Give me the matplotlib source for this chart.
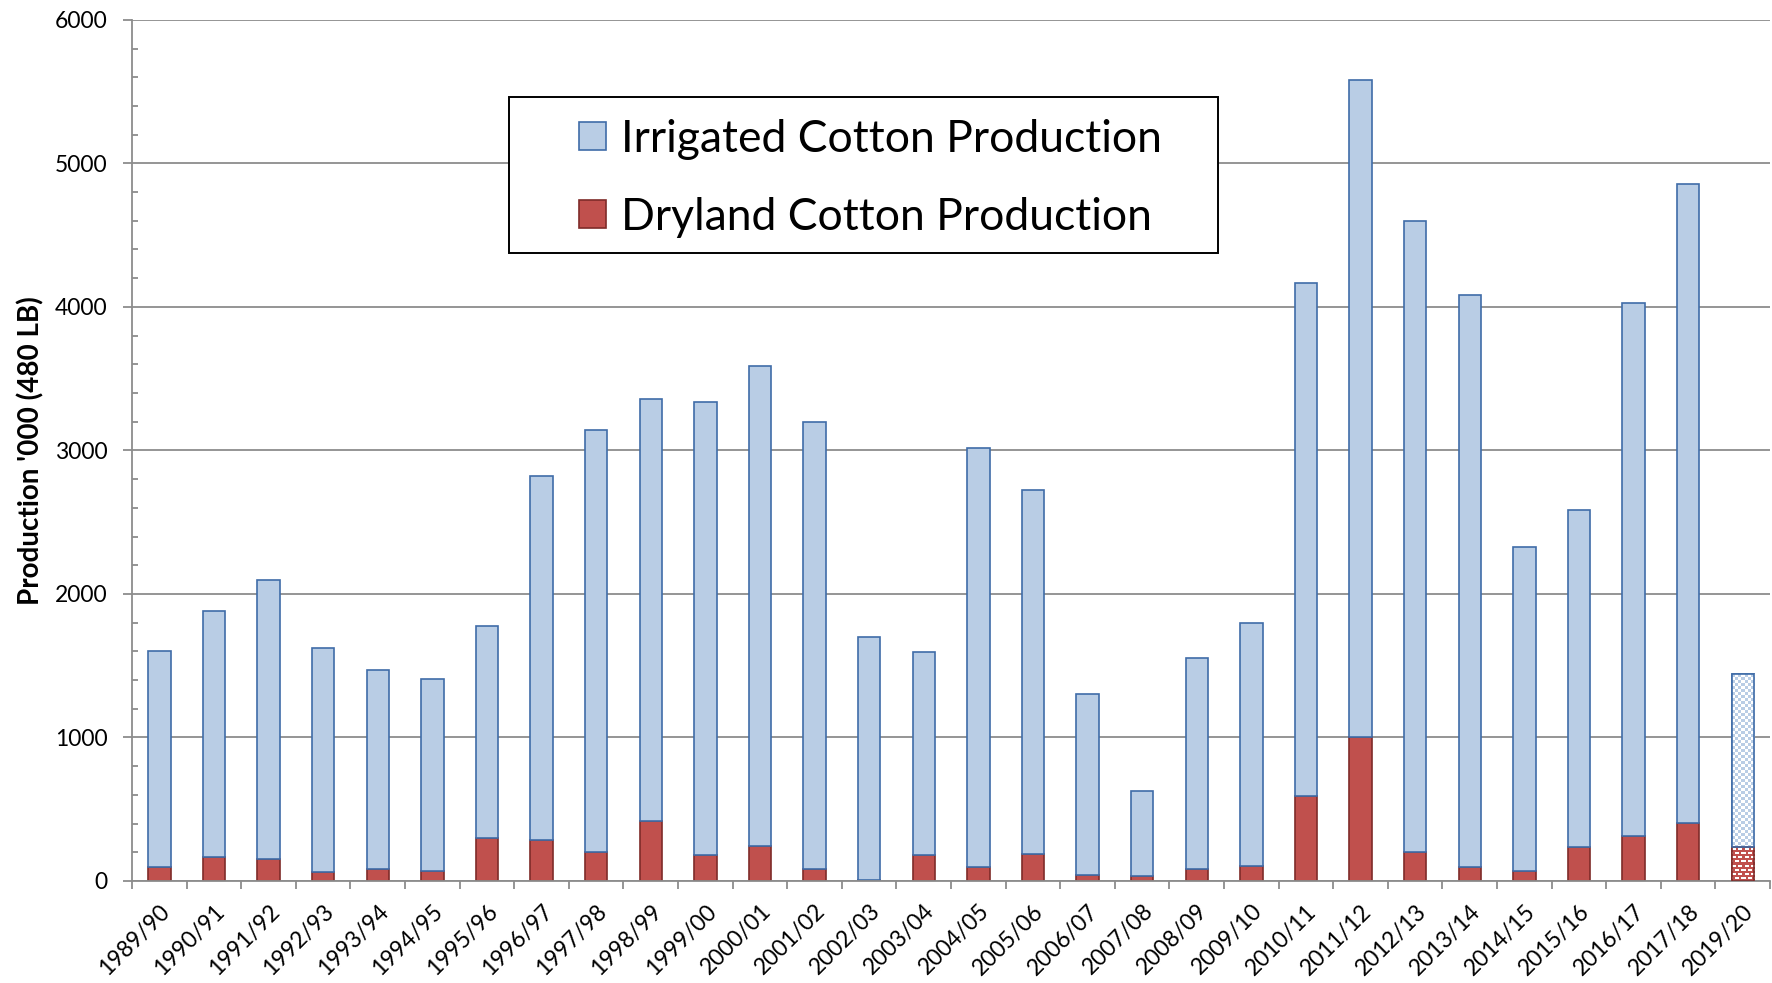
import numpy as np
import matplotlib
matplotlib.use('Agg')
import matplotlib.pyplot as plt
from matplotlib.patches import Rectangle
from matplotlib.colors import to_rgb

plt.rcParams['font.family'] = ['Lato', 'DejaVu Sans']

seasons = ['1989/90', '1990/91', '1991/92', '1992/93', '1993/94', '1994/95',
           '1995/96', '1996/97', '1997/98', '1998/99', '1999/00', '2000/01',
           '2001/02', '2002/03', '2003/04', '2004/05', '2005/06', '2006/07',
           '2007/08', '2008/09', '2009/10', '2010/11', '2011/12', '2012/13',
           '2013/14', '2014/15', '2015/16', '2016/17', '2017/18', '2019/20']
# '000 bales (480 lb)
dryland = [100, 170, 150, 65, 80, 70, 300, 285, 205, 415, 180, 245, 80, 10,
           180, 100, 190, 45, 35, 80, 105, 595, 1005, 205, 100, 70, 235, 315,
           405, 240]
irrigated = [1500, 1710, 1950, 1560, 1390, 1335, 1480, 2535, 2940, 2940, 3155,
             3340, 3120, 1690, 1415, 2920, 2535, 1255, 595, 1475, 1695, 3570,
             4575, 4395, 3980, 2260, 2350, 3715, 4450, 1205]
estimate_idx = 29  # last season is an estimate -> patterned bar

blue_face = '#B9CDE5'
blue_edge = '#3F6CA8'
red_face = '#C0504D'
red_edge = '#7F2B29'
grid_col = '#8C8C8C'

fig = plt.figure(figsize=(17.72, 9.83), dpi=100)
ax = fig.add_axes([0.0745, 0.1038, 0.9244, 0.876])

x = np.arange(len(seasons))
w = 0.41
dry_bars = ax.bar(x, dryland, w, color=red_face, edgecolor=red_edge, linewidth=1.2, zorder=2)
irr_bars = ax.bar(x, irrigated, w, bottom=dryland, color=blue_face, edgecolor=blue_edge,
                  linewidth=1.2, zorder=2)

ax.set_xlim(-0.5, len(seasons) - 0.5)
ax.set_ylim(0, 6000)

# patterned fills for the estimate bar
def bar_px(p):
    (x0, y0), (x1, y1) = ax.transData.transform([[p.get_x(), p.get_y()],
                                                 [p.get_x() + p.get_width(), p.get_y() + p.get_height()]])
    return max(int(round(x1 - x0)), 1), max(int(round(y1 - y0)), 1)

p = irr_bars[estimate_idx]
nc, nr = bar_px(p)
rr, cc = np.indices((nr, nc))
chk = ((rr // 3) + (cc // 3)) % 2
img = np.where(chk[..., None] == 0, np.array(to_rgb(blue_face)), np.ones(3))
im = ax.imshow(img, extent=(p.get_x(), p.get_x() + p.get_width(), p.get_y(), p.get_y() + p.get_height()),
               aspect='auto', interpolation='nearest', zorder=2.5)
im.set_clip_path(p)

p = dry_bars[estimate_idx]
nc, nr = bar_px(p)
rr, cc = np.indices((nr, nc))
off = 3 * ((rr // 4) % 2)
dash = ((rr % 4) >= 2) & (((cc + off) % 6) < 4)
img = np.where(dash[..., None], np.ones(3), np.array(to_rgb(red_face)))
im = ax.imshow(img, extent=(p.get_x(), p.get_x() + p.get_width(), p.get_y(), p.get_y() + p.get_height()),
               aspect='auto', interpolation='nearest', zorder=2.5)
im.set_clip_path(p)

ax.bar(x[estimate_idx], dryland[estimate_idx], w, color='none', edgecolor=red_edge, linewidth=1.2, zorder=3)
ax.bar(x[estimate_idx], irrigated[estimate_idx], w, bottom=dryland[estimate_idx], color='none',
       edgecolor=blue_edge, linewidth=1.2, zorder=3)

ax.set_xlim(-0.5, len(seasons) - 0.5)
ax.set_ylim(0, 6000)

# axes styling
ax.set_axisbelow(True)
ax.grid(axis='y', color=grid_col, linewidth=1.3)
for s in ['top', 'right']:
    ax.spines[s].set_visible(False)
for s in ['left', 'bottom']:
    ax.spines[s].set_color(grid_col)
    ax.spines[s].set_linewidth(1.3)

ax.set_yticks(np.arange(0, 6001, 1000))
ax.set_yticks(np.arange(0, 6001, 200), minor=True)
ax.tick_params(axis='y', which='major', direction='out', length=6.5, width=1.3, color=grid_col,
               labelsize=16.5, pad=11)
ax.tick_params(axis='y', which='minor', direction='in', length=4, width=1.3, color=grid_col)

ax.set_xticks(x)
ax.set_xticklabels(seasons, rotation=45, ha='right', rotation_mode='anchor')
ax.set_xticks(np.arange(-0.5, len(seasons), 1), minor=True)
ax.tick_params(axis='x', which='major', length=0, labelsize=16.5, pad=14)
ax.tick_params(axis='x', which='minor', direction='out', length=5.5, width=1.3, color=grid_col)

ax.set_ylabel("Production '000 (480 LB)", fontsize=20, fontweight='bold')
ax.yaxis.set_label_coords(-0.0535, 0.5)

# legend
leg = ax.legend([irr_bars[0], dry_bars[0]],
                ['Irrigated Cotton Production', 'Dryland Cotton Production'],
                loc='upper left', bbox_to_anchor=(0.273, 0.885), frameon=False,
                fontsize=32, handlelength=0.6, handleheight=0.6, handletextpad=0.33,
                labelspacing=0.83, borderaxespad=0, borderpad=0)
ax.add_patch(Rectangle((0.230, 0.7296), 0.4328, 0.181, transform=ax.transAxes,
                       facecolor='white', edgecolor='black', linewidth=1.4, zorder=4))
leg.set_zorder(5)

fig.savefig('out.png', dpi=100)
